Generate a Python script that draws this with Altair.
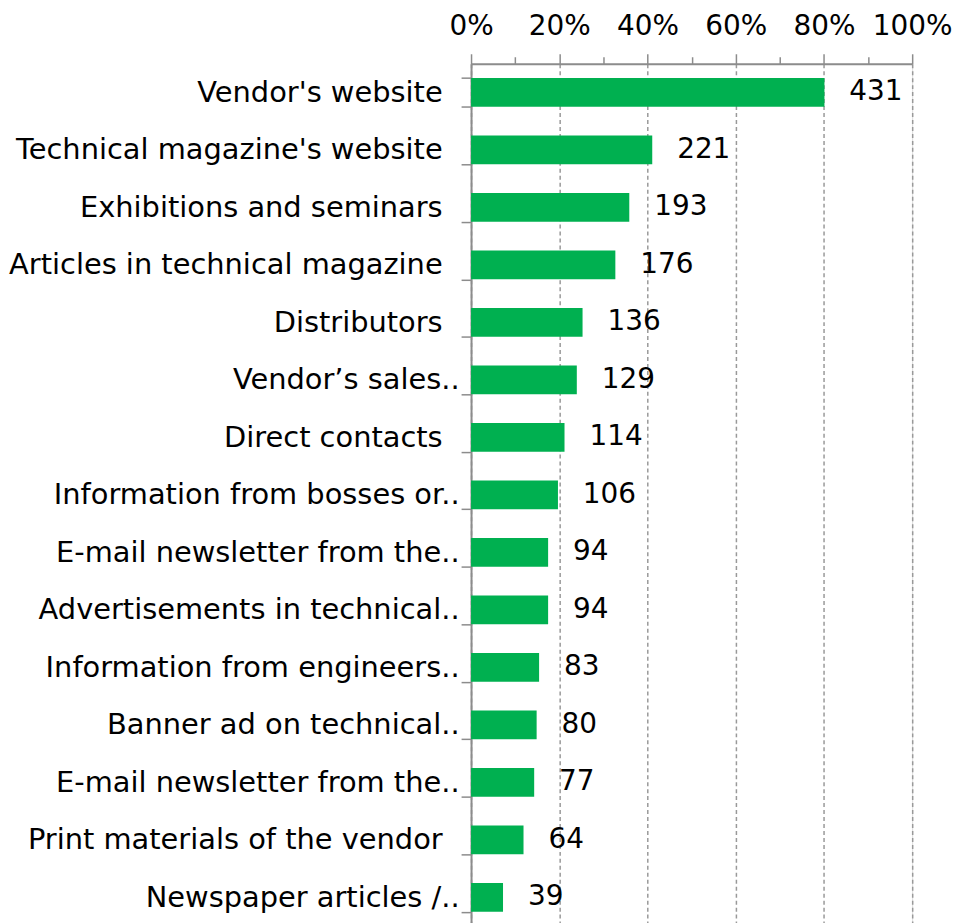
import altair as alt
import pandas as pd

categories = [
    "Vendor's website",
    "Technical magazine's website",
    "Exhibitions and seminars",
    "Articles in technical magazine",
    "Distributors",
    "Vendor\u2019s sales..",
    "Direct contacts",
    "Information from bosses or..",
    "E-mail newsletter from the..",
    "Advertisements in technical..",
    "Information from engineers..",
    "Banner ad on technical..",
    "E-mail newsletter from the..",
    "Print materials of the vendor",
    "Newspaper articles /..",
]
counts = [431, 221, 193, 176, 136, 129, 114, 106, 94, 94, 83, 80, 77, 64, 39]
respondents = 538
x_ticks = [0, 0.1, 0.2, 0.3, 0.4, 0.5, 0.6, 0.7, 0.8, 0.9, 1.0]

df = pd.DataFrame({"idx": list(range(len(categories))), "label": categories, "count": counts})

FONT = "DejaVu Sans"
GRAY = "#8c8c8c"
minor = "round(datum.value * 10) % 2 == 1"

# untruncated labels sit a little further from the axis (trailing space in the original)
full_idx = [i for i, c in enumerate(categories) if not c.endswith("..")]
full_test = "indexof([" + ",".join(str(i) for i in full_idx) + "], datum.value) >= 0"

label_expr = "[" + ",".join('"' + s.replace('"', '\\"') + '"' for s in categories) + "][datum.value]"

y_enc = alt.Y(
    "idx:O",
    scale=alt.Scale(paddingInner=0.5, paddingOuter=0.25),
    axis=alt.Axis(
        title=None,
        labelExpr=label_expr,
        labelFont=FONT,
        labelFontSize=29,
        labelColor="black",
        labelPadding={"condition": {"test": full_test, "value": 19}, "value": 2},
        labelLimit=0,
        tickBand="extent",
        tickSize=10,
        tickColor=GRAY,
        tickWidth=1.5,
        domainColor=GRAY,
        domainWidth=2,
        grid=False,
    ),
)

x_axis = alt.Axis(
    orient="top",
    title=None,
    values=x_ticks,
    format="%",
    labelExpr=f"{minor} ? '' : datum.label",
    labelFont=FONT,
    labelFontSize=28,
    labelColor="black",
    labelPadding=13,
    labelFlush=False,
    labelOverlap=False,
    tickSize={"condition": {"test": minor, "value": 7}, "value": 10},
    tickColor=GRAY,
    tickWidth=1.5,
    domainColor=GRAY,
    domainWidth=2,
    grid=True,
    gridColor="#999999",
    gridDash=[4, 3],
    gridWidth=1.5,
    gridOpacity={"condition": {"test": minor, "value": 0}, "value": 1},
)

base = alt.Chart(df).transform_calculate(pct=f"datum.count / {respondents}")

bars = base.mark_bar(color="#00B050").encode(
    x=alt.X("pct:Q", scale=alt.Scale(domain=[0, 1], nice=False), axis=x_axis),
    y=y_enc,
)

labels = base.mark_text(
    align="left", baseline="middle", dx=25, font=FONT, fontSize=28, color="black"
).encode(
    x=alt.X("pct:Q"),
    y=alt.Y("idx:O"),
    text=alt.Text("count:Q"),
)

chart = (
    alt.layer(bars, labels)
    .properties(
        width=443,
        height=866,
        autosize=alt.AutoSizeParams(type="none"),
        padding={"left": 465, "top": 54, "right": 41, "bottom": 5},
    )
    .configure_view(stroke=None)
    .configure(background="white")
)

chart.save("out.html", embed_options={"renderer": "svg", "actions": False})
